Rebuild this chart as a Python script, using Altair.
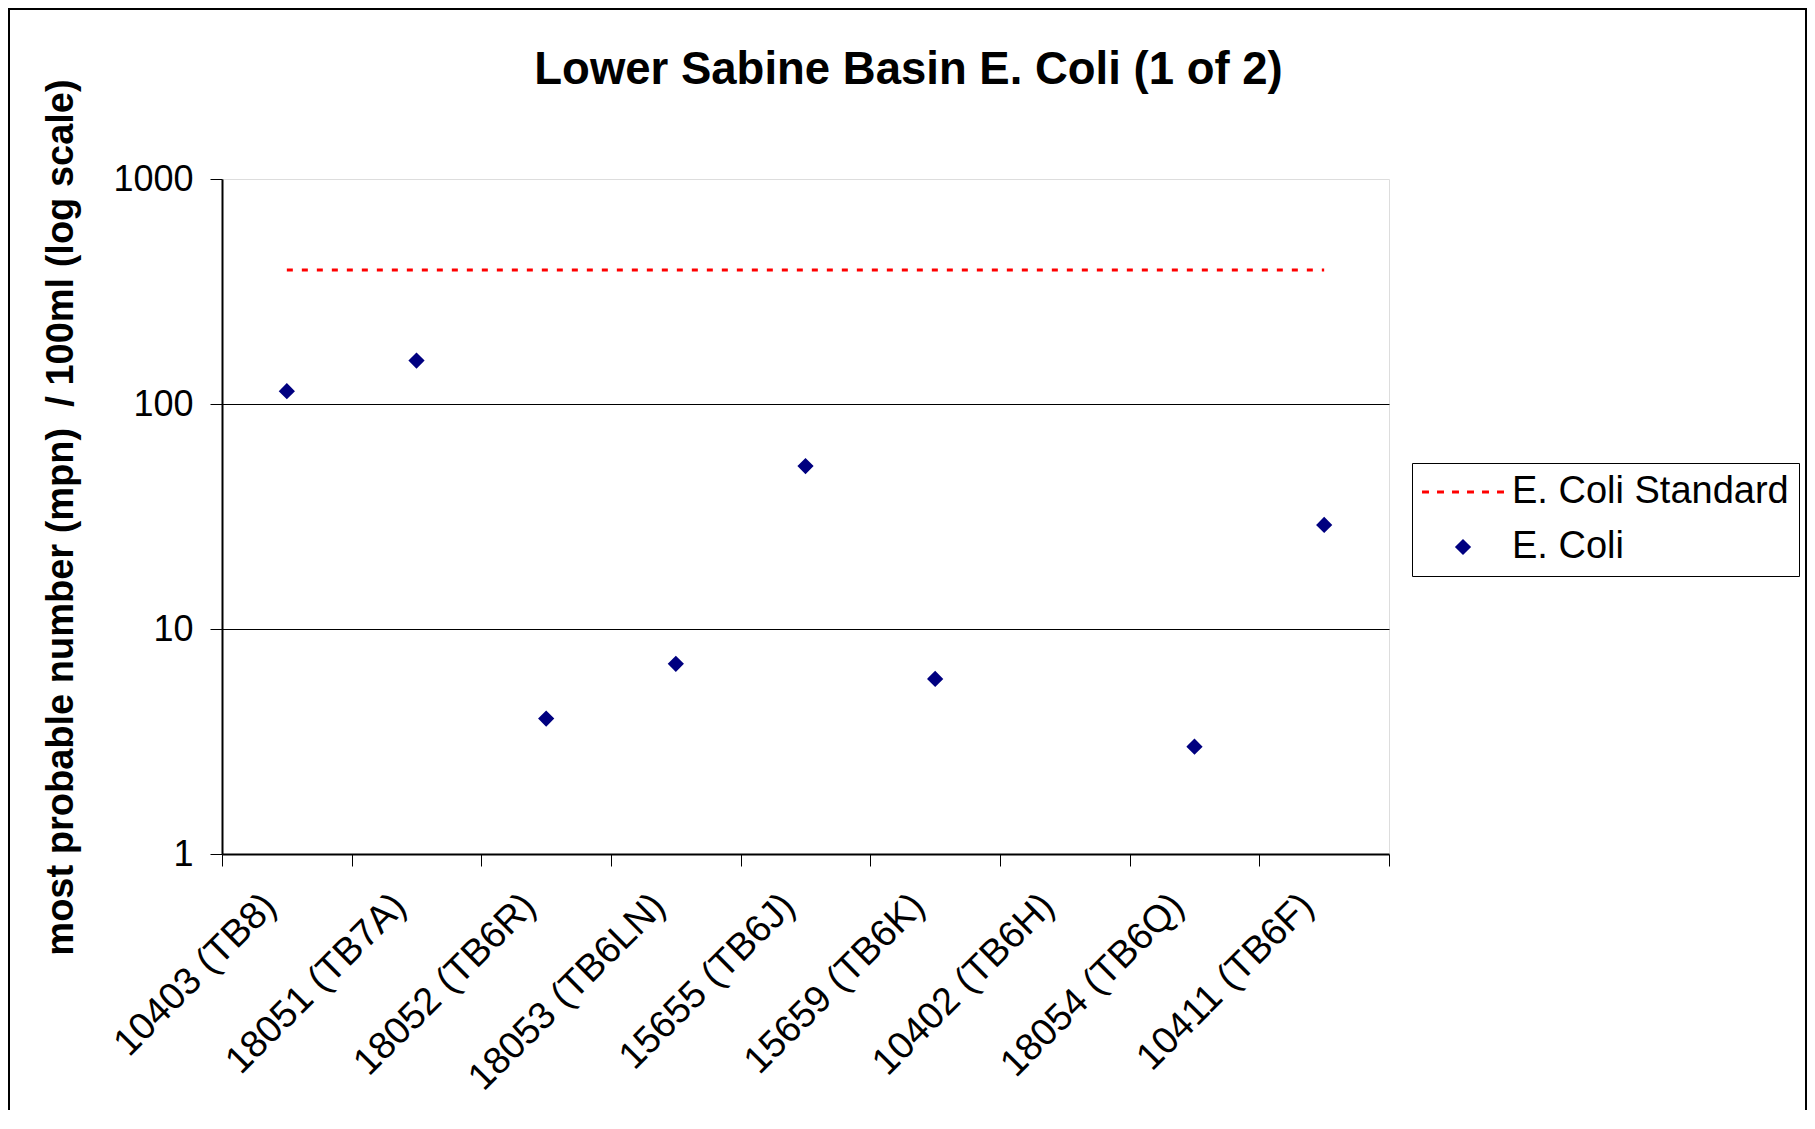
import json
import altair as alt
import pandas as pd

# ---- data ----
CATEGORIES = ["10403 (TB8)", "18051 (TB7A)", "18052 (TB6R)", "18053 (TB6LN)",
              "15655 (TB6J)", "15659 (TB6K)", "10402 (TB6H)", "18054 (TB6Q)",
              "10411 (TB6F)"]
ECOLI = [114, 156, 4, 7, 53, 6, None, 3, 29]
STANDARD = 394
SERIES = ["E. Coli Standard", "E. Coli"]
COLORS = ["#FF0000", "#000080"]
Y_TICKS = [1, 10, 100, 1000]

TITLE = "Lower Sabine Basin E. Coli (1 of 2)"
Y_TITLE = "most probable number (mpn) \u00a0/ 100ml (log scale)"

# ---- style ----
FONT = "Liberation Sans"
W, H = 1167, 675
N = len(CATEGORIES)
LINE_SYMBOL = ("M-6.83,0H-5.67M-4.33,0H-3.17M-1.83,0H-0.67"
               "M0.67,0H1.83M3.17,0H4.33M5.67,0H6.83")

pts = pd.DataFrame([
    {"site": c, "pos": i + 0.5, "mpn": v, "series": SERIES[1]}
    for i, (c, v) in enumerate(zip(CATEGORIES, ECOLI)) if v is not None
])
std = pd.DataFrame({"pos": [0.5, N - 0.5], "mpn": [STANDARD, STANDARD],
                    "series": [SERIES[0], SERIES[0]]})

x_scale = alt.Scale(domain=[0, N], nice=False, zero=False)
y_scale = alt.Scale(type="log", domain=[1, 1000], nice=False)

x_axis = alt.Axis(
    values=list(range(N + 1)),
    labelExpr=f"datum.value < {N} ? {json.dumps(CATEGORIES)}[datum.value] : ''",
    labelAngle=-45, labelAlign="right", labelBaseline="middle",
    labelOffset=48, labelPadding=34, labelFontSize=38, labelFont=FONT,
    labelColor="black", labelOverlap=False, labelFlush=False, labelBound=False,
    labelLimit=0,
    tickSize=12, tickColor="black", tickWidth=1,
    domainColor="black", domainWidth=2, grid=False, title=None,
)
y_axis = alt.Axis(
    values=Y_TICKS, format="d", labelFontSize=36, labelFont=FONT,
    labelColor="black", labelPadding=17, labelOverlap=False,
    tickSize=12, tickColor="black", tickWidth=1,
    domainColor="black", domainWidth=2,
    grid=True, gridColor="black", gridWidth=1,
    gridOpacity={"condition": {"test": "datum.value == 1 || datum.value == 1000",
                               "value": 0}, "value": 1},
    title=Y_TITLE, titleFont=FONT, titleFontSize=38, titleFontWeight="bold",
    titleColor="black", titleAngle=-90, titleX=-161, titleY=338,
    titleBaseline="middle", titleAlign="center", titleLimit=0,
)

legend = alt.Legend(
    title=None, orient="none", legendX=1190, legendY=284, direction="vertical",
    labelFont=FONT, labelFontSize=38, labelColor="black", labelOffset=30,
    labelLimit=0,
    symbolSize=144, symbolStrokeWidth=3, symbolOffset=22,
    padding=10, rowPadding=17, strokeColor="black", fillColor="white",
)

frame = alt.Chart(pd.DataFrame({"k": [0]})).mark_rect(
    fill="transparent", stroke="black", strokeWidth=2
).encode(
    x=alt.value(-213), x2=alt.value(W + 417),
    y=alt.value(-170), y2=alt.value(H + 400),
)

line = alt.Chart(std).mark_line(
    color=COLORS[0], strokeWidth=3, strokeDash=[6, 9]
).encode(
    x=alt.X("pos:Q", scale=x_scale, axis=x_axis),
    y=alt.Y("mpn:Q", scale=y_scale, axis=y_axis),
)

points = alt.Chart(pts).mark_point(
    filled=True, size=144, opacity=1, strokeWidth=3
).encode(
    x=alt.X("pos:Q", scale=x_scale, axis=x_axis),
    y=alt.Y("mpn:Q", scale=y_scale, axis=y_axis),
    fill=alt.Fill("series:N", scale=alt.Scale(domain=SERIES, range=COLORS), legend=legend),
    stroke=alt.Stroke("series:N", scale=alt.Scale(domain=SERIES, range=COLORS), legend=legend),
    shape=alt.Shape("series:N", scale=alt.Scale(domain=SERIES, range=[LINE_SYMBOL, "diamond"]),
                    legend=legend),
)

chart = alt.layer(frame, line, points).properties(
    width=W, height=H,
    title=alt.TitleParams(TITLE, font=FONT, fontSize=45.5, fontWeight="bold",
                          color="black", anchor="middle", dx=103, offset=-85),
    autosize=alt.AutoSizeParams(type="none"),
    padding={"left": 214, "top": 171, "right": 418, "bottom": 256},
).configure_view(stroke="#888888", strokeWidth=2).configure(background="white")

chart.save("out.html", embed_options={"renderer": "svg", "actions": False})
